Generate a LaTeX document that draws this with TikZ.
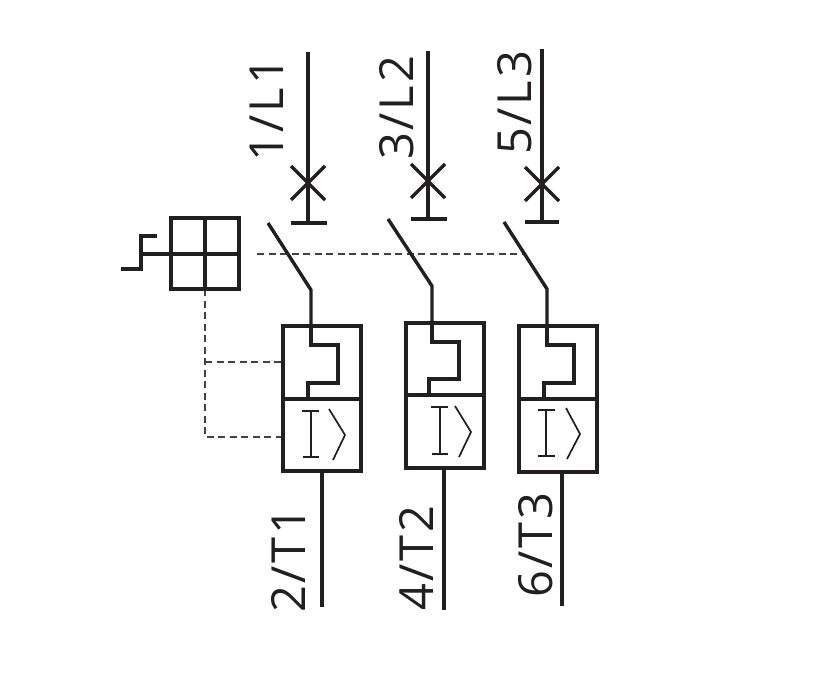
\documentclass[tikz,border=0pt]{standalone}
\usepackage{fontspec}
\setmainfont{Open Sans}[Kerning=Off,LetterSpace=6]
\tikzset{
  heavy/.style={line width=3.6pt,draw=ink},
  wire/.style={line width=3.4pt,draw=ink,line cap=butt},
  thin glyph/.style={line width=1.7pt,draw=ink},
  link/.style={line width=1.3pt,draw=ink!85,dash pattern=on 7pt off 4.5pt},
  label/.style={rotate=90,anchor=base west,inner sep=0pt,font=\fontsize{47}{47}\selectfont,text=ink},
}
\definecolor{ink}{HTML}{231F20}
\begin{document}
\begin{tikzpicture}[x=1pt,y=-1pt]
\useasboundingbox (0,0) rectangle (837,674);
% labels
\node[label] (l1) at (283,162) {1/L1};
\node[label] (l2) at (413,160) {3/L2};
\node[label] (l3) at (531,155) {5/L3};
\node[label] (t1) at (305,613) {2/T1};
\node[label] (t2) at (433,611) {4/T2};
\node[label] (t3) at (552,598) {6/T3};
% dashed links
\draw[link] (257,254) -- (523,254);
\draw[link] (205,289) -- (205,437) -- (283,437);
\draw[link] (205,362) -- (283,362);
% handle
\draw[heavy] (171,218) rectangle (239,289);
\draw[heavy] (205,218) -- (205,289);
\draw[heavy] (171,254) -- (239,254);
\draw[heavy,line join=miter] (121,269) -- (141,269) -- (141,236) -- (157,236);
\draw[heavy] (141,254) -- (171,254);
% pole 1
\draw[wire] (308,52) -- (308,223);
\draw[wire] (291,223) -- (327,223);
\draw[wire] (291,166) -- (325,200) (325,166) -- (291,200);
\draw[wire] (268,223) -- (311,290) -- (311,326);
\draw[heavy] (283,326) rectangle (361,471);
\draw[heavy] (283,399) -- (361,399);
\draw[heavy] (311,326) -- (311,345) -- (338,345) -- (338,383) -- (308,383) -- (308,399);
\draw[thin glyph] (311,411) -- (311,457) (302,411) -- (319,411) (303,457) -- (319,457);
\draw[thin glyph] (329,409) -- (345,435) -- (333,460);
\draw[wire] (322,471) -- (322,607);
% pole 2
\draw[wire] (428,51) -- (428,219);
\draw[wire] (411,219) -- (447,219);
\draw[wire] (411,164) -- (445,198) (445,164) -- (411,198);
\draw[wire] (388,219) -- (432,286) -- (432,323);
\draw[heavy] (406,323) rectangle (484,468);
\draw[heavy] (406,395) -- (484,395);
\draw[heavy] (432,323) -- (432,342) -- (459,342) -- (459,379) -- (429,379) -- (429,395);
\draw[thin glyph] (440,407) -- (440,454) (431,407) -- (448,407) (432,454) -- (448,454);
\draw[thin glyph] (455,406) -- (471,432) -- (459,457);
\draw[wire] (444,468) -- (444,610);
% pole 3
\draw[wire] (542,49) -- (542,222);
\draw[wire] (525,222) -- (559,222);
\draw[wire] (525,167) -- (559,201) (559,167) -- (525,201);
\draw[wire] (504,222) -- (547,289) -- (547,326);
\draw[heavy] (519,326) rectangle (597,472);
\draw[heavy] (519,399) -- (597,399);
\draw[heavy] (547,326) -- (547,345) -- (574,345) -- (574,383) -- (544,383) -- (544,399);
\draw[thin glyph] (546,410) -- (546,456) (538,410) -- (555,410) (538,456) -- (555,456);
\draw[thin glyph] (566,408) -- (580,434) -- (567,459);
\draw[wire] (562,472) -- (562,606);
\end{tikzpicture}
\end{document}
